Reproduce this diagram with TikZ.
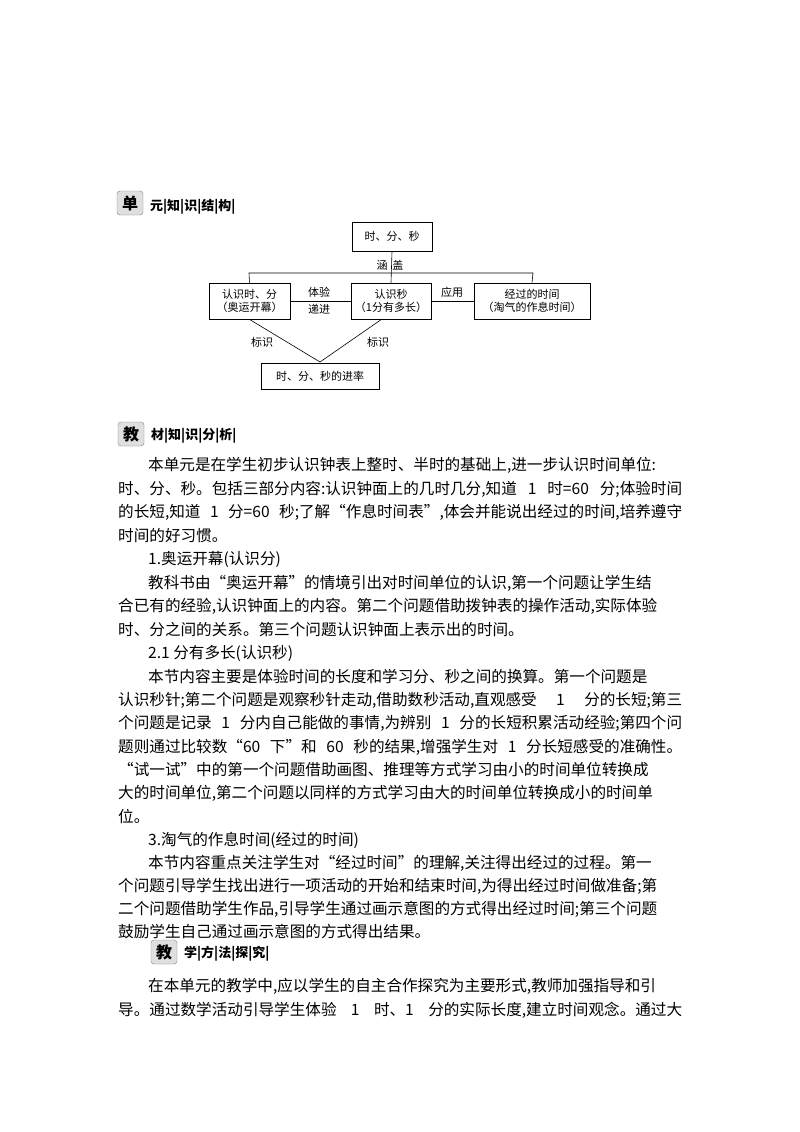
\documentclass[tikz,border=0pt]{standalone}
\usepackage{fontspec}
\setmainfont{Noto Sans CJK SC}
\newfontfamily\cjk{Noto Sans CJK SC}
\XeTeXlinebreaklocale "zh"
\XeTeXlinebreakskip=0pt plus 3pt
\tikzset{box/.style={draw,line width=0.8pt,inner sep=0pt,font=\fontsize{11}{13}\selectfont,align=center},
lbl/.style={font=\fontsize{11}{13}\selectfont,inner sep=0pt},
ln/.style={line width=0.6pt},
txt/.style={anchor=west,inner sep=0pt,font=\fontsize{15.6}{18}\selectfont},
badge/.style={draw=gray,fill=gray!25,rounded corners=3pt,inner sep=0pt,minimum width=26pt,minimum height=24pt,font=\fontsize{16}{18}\selectfont\bfseries},
head/.style={anchor=west,inner sep=0pt,font=\fontsize{13}{15}\selectfont\bfseries}}
\newcommand\fl[1]{\hbox to 564pt{#1}}
\begin{document}
\begin{tikzpicture}[x=1pt,y=-1pt]
\useasboundingbox (0,0) rectangle (800,1132);
% header 1
\node[badge] (b1) at (130,203) {单};
\node[head] (h1) at (150,207) {元|知|识|结|构|};
% diagram
\node[box,minimum width=80pt,minimum height=29pt] (top) at (392,236.5) {时、分、秒};
\node[box,minimum width=81pt,minimum height=36pt] (L) at (249.5,301) {认识时、分\\（奥运开幕）};
\node[box,minimum width=80pt,minimum height=36pt] (M) at (391,301) {认识秒\\（1分有多长）};
\node[box,minimum width=116pt,minimum height=36pt] (R) at (532,301) {经过的时间\\（淘气的作息时间）};
\node[box,minimum width=118pt,minimum height=26pt] (B) at (320,376) {时、分、秒的进率};
\coordinate (hl) at (249,273); \coordinate (hr) at (533,273); \coordinate (hm) at (391,273);
\coordinate (apex) at (320,362);
\draw[ln] (top.south) -- (M.north);
\draw[ln] (L.north) -- (hl) -- (hr) -- (R.north);
\draw[ln] (L.east) -- (M.west);
\draw[ln] (M.east) -- (R.west);
\draw[ln] (L.south) -- (apex) -- (382,319);
\node[lbl] (l1) at (390,265) {涵\ \ 盖};
\node[lbl] (l2) at (319,292) {体验};
\node[lbl] (l3) at (319,309) {递进};
\node[lbl] (l4) at (452,292) {应用};
\node[lbl] (l5) at (262,342) {标识};
\node[lbl] (l6) at (378,342) {标识};
% header 2
\node[badge] (b2) at (131,434) {教};
\node[head] (h2) at (151,436) {材|知|识|分|析|};
% text
\node[txt] (t1) at (148,465) {\hbox to 534pt{本单元是在学生初步认识钟表上整时、半时的基础上,进一步认识时间单位:}};
\node[txt] (t2) at (118,489) {\fl{时、分、秒。包括三部分内容:认识钟面上的几时几分,知道 1 时=60 分;体验时间}};
\node[txt] (t3) at (118,512) {\fl{的长短,知道 1 分=60 秒;了解“作息时间表”,体会并能说出经过的时间,培养遵守}};
\node[txt] (t4) at (118,536) {时间的好习惯。};
\node[txt] (t5) at (148,559) {1.奥运开幕(认识分)};
\node[txt] (t6) at (148,583) {\hbox to 534pt{教科书由“奥运开幕”的情境引出对时间单位的认识,第一个问题让学生结}};
\node[txt] (t7) at (118,606) {\fl{合已有的经验,认识钟面上的内容。第二个问题借助拨钟表的操作活动,实际体验}};
\node[txt] (t8) at (118,630) {时、分之间的关系。第三个问题认识钟面上表示出的时间。};
\node[txt] (t9) at (148,653) {2.1 分有多长(认识秒)};
\node[txt] (t10) at (148,677) {\hbox to 534pt{本节内容主要是体验时间的长度和学习分、秒之间的换算。第一个问题是}};
\node[txt] (t11) at (118,700) {\fl{认识秒针;第二个问题是观察秒针走动,借助数秒活动,直观感受 1 分的长短;第三}};
\node[txt] (t12) at (118,723) {\fl{个问题是记录 1 分内自己能做的事情,为辨别 1 分的长短积累活动经验;第四个问}};
\node[txt] (t13) at (118,747) {\fl{题则通过比较数“60 下”和 60 秒的结果,增强学生对 1 分长短感受的准确性。}};
\node[txt] (t14) at (118,770) {\fl{“试一试”中的第一个问题借助画图、推理等方式学习由小的时间单位转换成}};
\node[txt] (t15) at (118,793) {\fl{大的时间单位,第二个问题以同样的方式学习由大的时间单位转换成小的时间单}};
\node[txt] (t16) at (118,816) {位。};
\node[txt] (t17) at (148,840) {3.淘气的作息时间(经过的时间)};
\node[txt] (t18) at (148,863) {\hbox to 534pt{本节内容重点关注学生对“经过时间”的理解,关注得出经过的过程。第一}};
\node[txt] (t19) at (118,886) {\fl{个问题引导学生找出进行一项活动的开始和结束时间,为得出经过时间做准备;第}};
\node[txt] (t20) at (118,909) {\fl{二个问题借助学生作品,引导学生通过画示意图的方式得出经过时间;第三个问题}};
\node[txt] (t21) at (118,932) {鼓励学生自己通过画示意图的方式得出结果。};
% header 3
\node[badge] (b3) at (164,952) {教};
\node[head] (h3) at (184,954) {学|方|法|探|究|};
\node[txt] (t22) at (148,986) {\hbox to 534pt{在本单元的教学中,应以学生的自主合作探究为主要形式,教师加强指导和引}};
\node[txt] (t23) at (118,1010) {\fl{导。通过数学活动引导学生体验 1 时、1 分的实际长度,建立时间观念。通过大}};
\end{tikzpicture}
\end{document}
